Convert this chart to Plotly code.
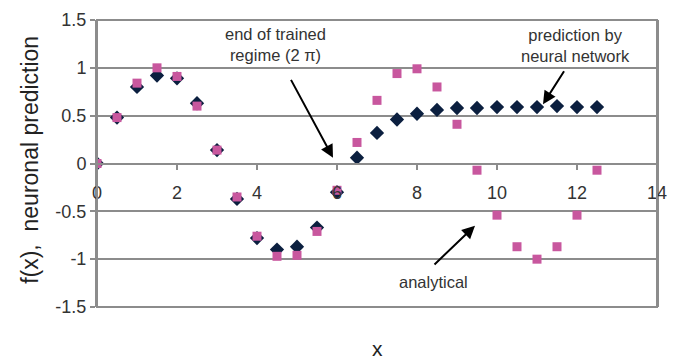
import plotly.graph_objects as go

x_vals = [0, 0.5, 1, 1.5, 2, 2.5, 3, 3.5, 4, 4.5, 5, 5.5, 6, 6.5, 7, 7.5, 8,
          8.5, 9, 9.5, 10, 10.5, 11, 11.5, 12, 12.5]
analytical = [0, 0.48, 0.84, 1.0, 0.91, 0.60, 0.14, -0.35, -0.76, -0.97, -0.96,
              -0.71, -0.28, 0.22, 0.66, 0.94, 0.99, 0.80, 0.41, -0.07, -0.54,
              -0.87, -1.0, -0.87, -0.54, -0.07]
prediction = [0, 0.48, 0.80, 0.92, 0.89, 0.63, 0.14, -0.37, -0.78, -0.90, -0.87,
              -0.67, -0.30, 0.06, 0.32, 0.46, 0.52, 0.56, 0.58, 0.58, 0.59,
              0.59, 0.59, 0.60, 0.59, 0.59]
x_ticks = [0, 2, 4, 6, 8, 10, 12, 14]
y_ticks = [-1.5, -1, -0.5, 0, 0.5, 1, 1.5]
y_ticktext = ["-1.5", "-1", "-0.5", "0", "0.5", "1", "1.5"]

FONT = "Liberation Sans, Arial, sans-serif"
GRID = "#8c8c8c"

fig = go.Figure()
fig.add_trace(go.Scatter(x=x_vals, y=prediction, mode="markers",
                         marker=dict(symbol="diamond", size=11, color="#0b1f3f"),
                         name="prediction", showlegend=False))
fig.add_trace(go.Scatter(x=x_vals, y=analytical, mode="markers",
                         marker=dict(symbol="square", size=9, color="#c8579e"),
                         name="analytical", showlegend=False))

fig.update_layout(
    width=682, height=361,
    margin=dict(l=97, r=25, t=20, b=54),
    paper_bgcolor="white", plot_bgcolor="white",
    font=dict(family=FONT, color="#222222"),
    xaxis=dict(range=[0, 14], tickvals=x_ticks, showgrid=False, zeroline=False,
               anchor="free", position=0.5, showline=True, linecolor=GRID,
               linewidth=2, ticks="outside", ticklen=5, tickcolor=GRID,
               tickwidth=1.5, tickfont=dict(size=18, color="#333333"),
               ticklabelstandoff=8, automargin=False),
    yaxis=dict(range=[-1.5, 1.5], tickvals=y_ticks, ticktext=y_ticktext,
               showgrid=True, gridcolor=GRID, gridwidth=1.5, zeroline=False,
               showline=True, linecolor=GRID, linewidth=2, mirror=True,
               ticks="outside", ticklen=5, tickcolor=GRID, tickwidth=1.5,
               tickfont=dict(size=18, color="#333333"), automargin=False),
    shapes=[dict(type="rect", xref="paper", yref="paper", x0=0, x1=1, y0=0, y1=1,
                 line=dict(color=GRID, width=2), fillcolor="rgba(0,0,0,0)")],
)

annotations = [
    dict(text="f(x),  neuronal prediction", xref="paper", yref="paper",
         x=-0.12, y=0.512, textangle=-90, showarrow=False,
         font=dict(size=23, color="#222222"), xanchor="center", yanchor="middle"),
    dict(text="x", xref="paper", yref="paper", x=0.5, y=-0.143, showarrow=False,
         font=dict(size=21, color="#222222"), xanchor="center", yanchor="middle"),
    dict(text="end of trained<br>regime (2 \u03c0)", x=4.45, y=1.24, showarrow=False,
         font=dict(size=16.5, color="#333333")),
    dict(text="prediction by<br>neural network", x=11.95, y=1.23, showarrow=False,
         font=dict(size=16.5, color="#333333")),
    dict(text="analytical", x=8.4, y=-1.24, showarrow=False,
         font=dict(size=16.5, color="#333333")),
    dict(text="", x=5.9, y=0.06, ax=4.83, ay=0.89, axref="x", ayref="y",
         showarrow=True, arrowhead=2, arrowsize=1.3, arrowwidth=2, arrowcolor="black"),
    dict(text="", x=11.15, y=0.62, ax=11.7, ay=0.98, axref="x", ayref="y",
         showarrow=True, arrowhead=2, arrowsize=1.3, arrowwidth=2, arrowcolor="black"),
    dict(text="", x=9.45, y=-0.65, ax=8.4, ay=-1.07, axref="x", ayref="y",
         showarrow=True, arrowhead=2, arrowsize=1.3, arrowwidth=2, arrowcolor="black"),
]
fig.update_layout(annotations=annotations)

fig.write_html("out.html", config={"displayModeBar": False},
               post_script="document.body.style.margin='0px';document.body.style.overflow='hidden';")
